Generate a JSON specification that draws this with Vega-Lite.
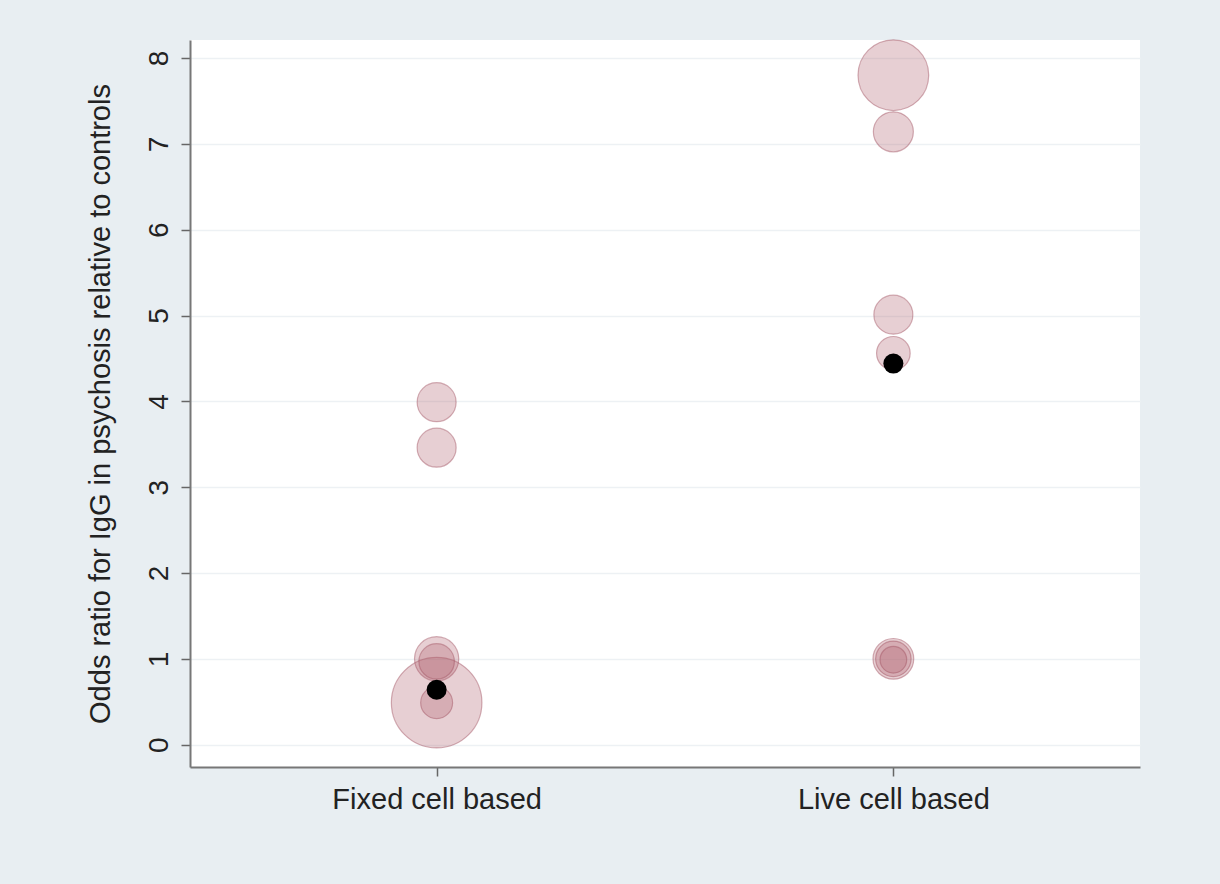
{
  "$schema": "https://vega.github.io/schema/vega-lite/v6.json",
  "autosize": {"type": "none"},
  "width": 950,
  "height": 727,
  "padding": {"left": 190, "top": 40, "right": 80, "bottom": 117},
  "background": "#e8eef2",
  "config": {
    "view": {"fill": "white", "stroke": null},
    "font": "Liberation Sans"
  },
  "datasets": {
    "studies": [
      {"method": "Fixed cell based", "or": 0.49, "weight": 82},
      {"method": "Fixed cell based", "or": 1.0, "weight": 19.6},
      {"method": "Fixed cell based", "or": 0.97, "weight": 12.6},
      {"method": "Fixed cell based", "or": 0.49, "weight": 10.2},
      {"method": "Fixed cell based", "or": 3.99, "weight": 15.2},
      {"method": "Fixed cell based", "or": 3.46, "weight": 15.2},
      {"method": "Live cell based", "or": 7.8, "weight": 50},
      {"method": "Live cell based", "or": 7.14, "weight": 16},
      {"method": "Live cell based", "or": 5.01, "weight": 15.2},
      {"method": "Live cell based", "or": 4.56, "weight": 11.3},
      {"method": "Live cell based", "or": 1.0, "weight": 16.6},
      {"method": "Live cell based", "or": 1.0, "weight": 12.6},
      {"method": "Live cell based", "or": 0.99, "weight": 7.1}
    ],
    "pooled": [
      {"method": "Fixed cell based", "or": 0.64},
      {"method": "Live cell based", "or": 4.44}
    ]
  },
  "layer": [
    {
      "data": {"name": "studies"},
      "mark": {"type": "circle", "color": "#b0606e", "fillOpacity": 0.3, "stroke": "#a05060", "strokeOpacity": 0.45, "strokeWidth": 1.2},
      "encoding": {
        "x": {
          "field": "method", "type": "nominal",
          "scale": {"type": "point", "padding": 0.54, "domain": ["Fixed cell based", "Live cell based"]},
          "axis": {"title": null, "labelAngle": 0, "labelFontSize": 29, "labelLimit": 0, "labelColor": "#222", "labelPadding": 9, "tickSize": 9, "tickColor": "#666", "domainColor": "#777", "domainWidth": 2, "tickWidth": 1.5, "grid": false}
        },
        "y": {
          "field": "or", "type": "quantitative",
          "scale": {"domain": [-0.26, 8.21], "nice": false, "zero": false},
          "axis": {"title": "Odds ratio for IgG in psychosis relative to controls", "titleFontSize": 29, "titleFontWeight": "normal", "titleColor": "#222", "titlePadding": 30, "titleLimit": 0, "values": [0, 1, 2, 3, 4, 5, 6, 7, 8], "format": "d", "labelAngle": -90, "labelAlign": "center", "labelBaseline": "bottom", "labelFontSize": 28, "labelColor": "#222", "labelPadding": 8, "tickSize": 9, "tickColor": "#666", "tickWidth": 1.5, "domainColor": "#777", "domainWidth": 2, "gridColor": "#edf1f4", "gridWidth": 1.5}
        },
        "size": {"field": "weight", "type": "quantitative", "scale": {"domain": [0, 100], "range": [0, 10000], "zero": true}, "legend": null},
        "order": {"field": "weight", "sort": "descending"}
      }
    },
    {
      "data": {"name": "pooled"},
      "mark": {"type": "circle", "color": "black", "opacity": 1, "size": 400},
      "encoding": {
        "x": {"field": "method", "type": "nominal"},
        "y": {"field": "or", "type": "quantitative"}
      }
    }
  ]
}
